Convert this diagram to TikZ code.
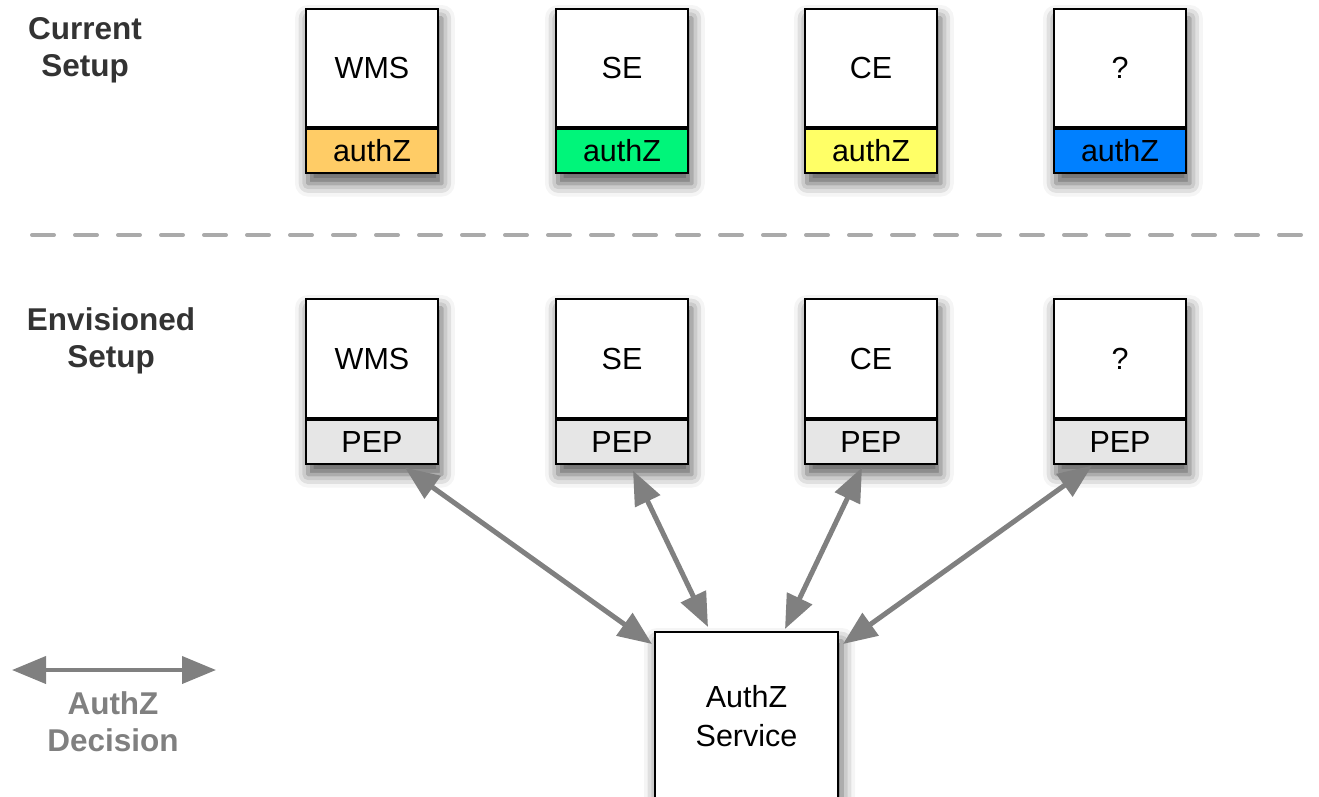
\documentclass[tikz,border=0pt]{standalone}
\usepackage{fontspec}
\setmainfont{Liberation Sans}
\usetikzlibrary{arrows.meta,backgrounds,shadows.blur}

\definecolor{cOrange}{HTML}{FFCC66}
\definecolor{cGreen}{HTML}{00F57A}
\definecolor{cYellow}{HTML}{FFFF66}
\definecolor{cBlue}{HTML}{0080FF}
\definecolor{cPep}{HTML}{E6E6E6}
\definecolor{cArrow}{HTML}{808080}
\definecolor{cLabel}{HTML}{333333}
\definecolor{cDash}{HTML}{AAAAAA}

\begin{document}
\begin{tikzpicture}[x=1pt,y=-1pt,
  mainbox/.style={draw=black, line width=2pt, fill=white, minimum width=132pt, minimum height=118pt, inner sep=0pt, font=\fontsize{30.5}{36}\selectfont},
  band/.style={draw=black, line width=1.6pt, minimum width=132pt, minimum height=44pt, inner sep=0pt, font=\fontsize{30.5}{36}\selectfont},
  shade/.style={blur shadow={shadow xshift=3pt, shadow yshift=-10pt, shadow blur radius=13pt, shadow opacity=65}},
  conn/.style={draw=cArrow, line width=5pt, {Triangle[length=34pt,width=27pt]}-{Triangle[length=34pt,width=27pt]}},
  setuplabel/.style={align=center, font=\bfseries\fontsize{31.5}{37}\selectfont, text=cLabel},
]
\useasboundingbox (0,0) rectangle (1319,796);

% labels
\node[setuplabel] (cur) at (85,50) {Current\\Setup};
\node[setuplabel] (env) at (111,341) {Envisioned\\Setup};

% current setup boxes
\node[mainbox] (t1) at (372,68) {WMS};
\node[band, fill=cOrange, anchor=north] (a1) at (t1.south) {authZ};
\node[mainbox] (t2) at (622,68) {SE};
\node[band, fill=cGreen, anchor=north] (a2) at (t2.south) {authZ};
\node[mainbox] (t3) at (871,68) {CE};
\node[band, fill=cYellow, anchor=north] (a3) at (t3.south) {authZ};
\node[mainbox] (t4) at (1120,68) {?};
\node[band, fill=cBlue, anchor=north] (a4) at (t4.south) {authZ};

% separator
\coordinate (d1) at (32,235);
\coordinate (d2) at (1330,235);
\draw[cDash, line width=4pt, line cap=round, dash pattern=on 22pt off 21pt] (d1) -- (d2);

% envisioned setup boxes
\node[mainbox, minimum height=119pt] (e1) at (372,358.5) {WMS};
\node[band, fill=cPep, anchor=north] (p1) at (e1.south) {PEP};
\node[mainbox, minimum height=119pt] (e2) at (622,358.5) {SE};
\node[band, fill=cPep, anchor=north] (p2) at (e2.south) {PEP};
\node[mainbox, minimum height=119pt] (e3) at (871,358.5) {CE};
\node[band, fill=cPep, anchor=north] (p3) at (e3.south) {PEP};
\node[mainbox, minimum height=119pt] (e4) at (1120,358.5) {?};
\node[band, fill=cPep, anchor=north] (p4) at (e4.south) {PEP};

% service
\node[mainbox, minimum width=183pt, minimum height=168pt, align=center, font=\fontsize{30.5}{39}\selectfont] (svc) at (746.5,716) {AuthZ\\Service};

% shadows
\begin{scope}[on background layer]
  \foreach \t/\b in {t1/a1,t2/a2,t3/a3,t4/a4,e1/p1,e2/p2,e3/p3,e4/p4}{
    \path[shade, fill=white] (\t.north west) rectangle (\b.south east);
  }
  \path[shade, fill=white] (svc.north west) rectangle (svc.south east);
\end{scope}

% connectors
\draw[conn] ([xshift=33pt,yshift=-3pt]p1.south) -- ([xshift=-2pt,yshift=-13pt]svc.north west);
\draw[conn] ([xshift=11pt,yshift=-6pt]p2.south) -- ([xshift=-38.5pt,yshift=4pt]svc.north);
\draw[conn] ([xshift=-9pt,yshift=-3pt]p3.south) -- ([xshift=38.5pt,yshift=2pt]svc.north);
\draw[conn] ([xshift=-28pt,yshift=-1pt]p4.south) -- ([xshift=4pt,yshift=-13pt]svc.north east);

% legend
\coordinate (la) at (12,670);
\coordinate (lb) at (216,670);
\draw[conn, line width=4pt] (la) -- (lb);
\node[align=center, font=\bfseries\fontsize{31.5}{37}\selectfont, text=cArrow] (leg) at (113,722) {AuthZ\\Decision};
\end{tikzpicture}
\end{document}
